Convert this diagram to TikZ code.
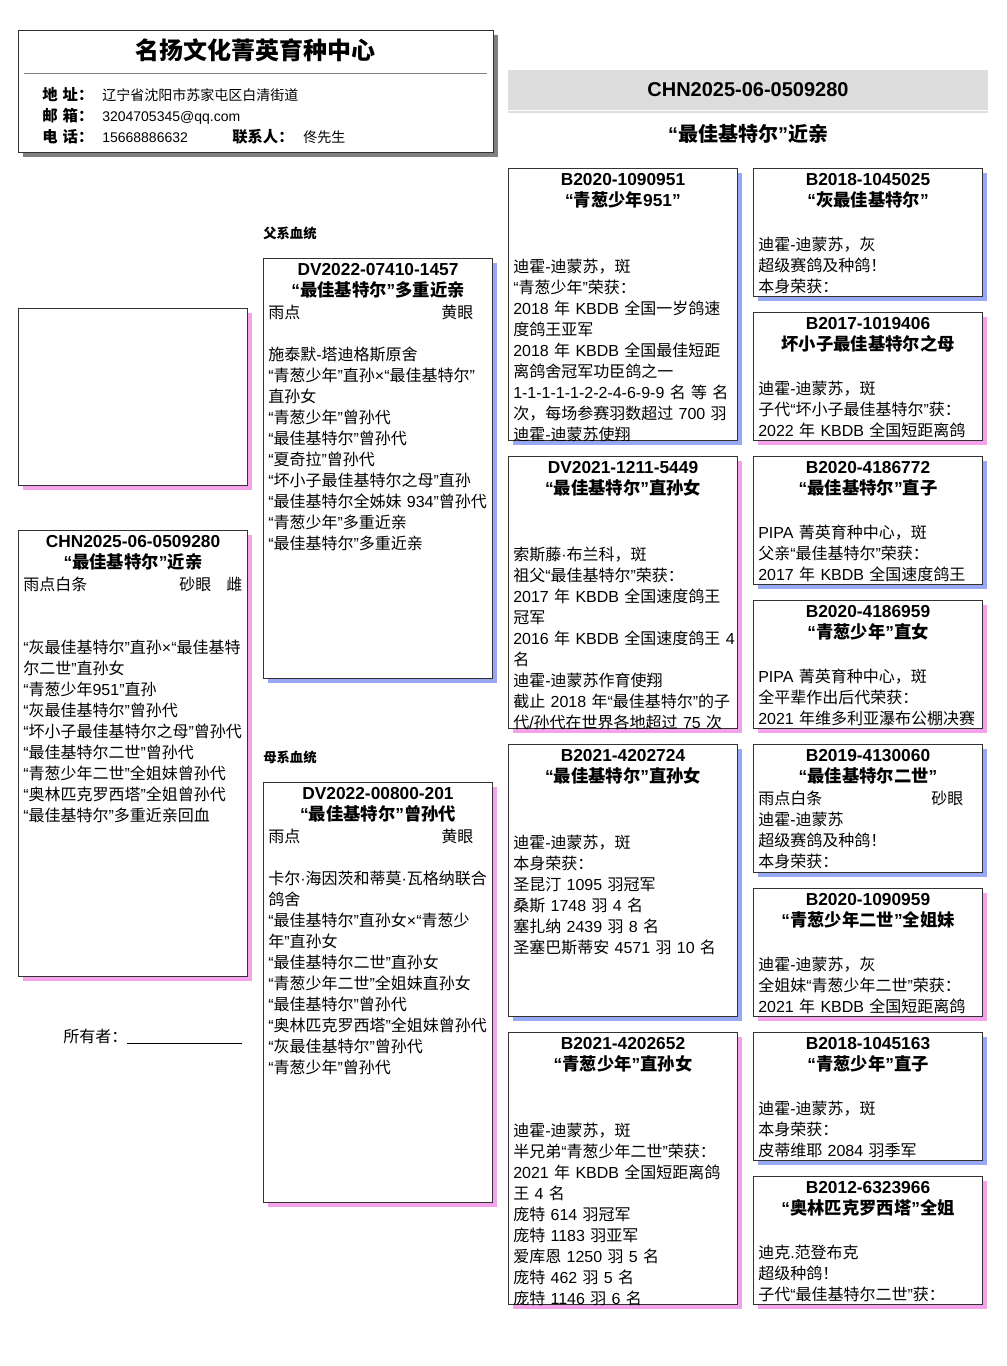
\documentclass[tikz,border=0pt]{standalone}
\usepackage{fontspec}
\setmainfont{Liberation Sans}
\newfontfamily\cjkfont{Noto Sans CJK SC}
\usetikzlibrary{shadows}

\definecolor{cockblue}{RGB}{153,168,245}
\definecolor{henpink}{RGB}{245,163,232}
\definecolor{bandgray}{RGB}{221,221,221}
\definecolor{shadowgray}{RGB}{128,128,128}

% Chinese characters in the CJK font, the rest in Liberation Sans
\XeTeXinterchartokenstate=1
\newXeTeXintercharclass\cjkclass
\makeatletter
\def\setcjkrange#1#2{\count@=#1
  \loop\XeTeXcharclass\count@=\cjkclass
  \ifnum\count@<#2 \advance\count@ by 1 \repeat}
\makeatother
\setcjkrange{"3000}{"303F}
\setcjkrange{"4E00}{"9FFF}
\setcjkrange{"FF00}{"FFEF}
\XeTeXcharclass"201C=0 \XeTeXcharclass"201D=0
\XeTeXcharclass"00B7=0 \XeTeXcharclass"00D7=0
\XeTeXinterchartoks 0 \cjkclass={\cjkfont}
\XeTeXinterchartoks 4095 \cjkclass={\cjkfont}
\XeTeXinterchartoks \cjkclass 0={\rmfamily}
\XeTeXinterchartoks \cjkclass 4095={\rmfamily}

\newcommand\farapart{\hskip 0pt plus 1filll}

\begin{document}
\begin{tikzpicture}[x=0.75pt, y=-0.75pt,
  card/.style={draw=black!80, line width=0.75pt, fill=white, inner sep=0pt,
    minimum width=171.75pt, anchor=north west},
  cock/.style={card, drop shadow={shadow xshift=3.5pt, shadow yshift=-3.5pt, fill=cockblue, opacity=1}},
  hen/.style={card, drop shadow={shadow xshift=3.5pt, shadow yshift=-3.5pt, fill=henpink, opacity=1}},
  tallcard/.style={minimum height=204pt},
  shortcard/.style={minimum height=96pt},
  ringtext/.style={anchor=base, align=center, text width=164.25pt, inner sep=0pt,
    font=\fontsize{13}{15.75}\selectfont\bfseries},
  bodytext/.style={anchor=base west, align=left, text width=164.25pt, inner sep=0pt,
    font=\fontsize{12}{15.75}\selectfont},
  tag/.style={anchor=base west, inner sep=0pt, font=\fontsize{10}{12}\selectfont\bfseries}]

\path[fill=white, use as bounding box] (0,0) rectangle (1006,1366);

% header
\node[card, minimum width=356.25pt, minimum height=91.5pt,
  drop shadow={shadow xshift=3.5pt, shadow yshift=-3.5pt, fill=shadowgray, opacity=1}] (head) at (18,30) {};
\node[font=\fontsize{18}{20}\selectfont\bfseries] (loft) at (255.5,50) {名扬文化菁英育种中心};
\draw[gray, line width=0.75pt] (24,74) -- (487,74);
\node[anchor=base west, align=left, text width=45pt, inner sep=0pt,
  font=\fontsize{11.5}{15.75}\selectfont\bfseries] (keys) at (42,100.5) {地 址：\\邮 箱：\\电 话：};
\node[anchor=base west, align=left, text width=150pt, inner sep=0pt,
  font=\fontsize{10.5}{15.75}\selectfont] (values) at (102,100.5) {辽宁省沈阳市苏家屯区白清街道\\3204705345@qq.com\\15668886632};
\node[anchor=base west, inner sep=0pt, font=\fontsize{11.5}{14}\selectfont\bfseries] (contact) at (232,142.5) {联系人：};
\node[anchor=base west, inner sep=0pt, font=\fontsize{10.5}{14}\selectfont] (person) at (303,142.5) {佟先生};

\node[fill=bandgray, minimum width=360pt, minimum height=30pt, inner sep=0pt,
  font=\fontsize{15}{18}\selectfont\bfseries] (band) at (748,90) {CHN2025-06-0509280};
\draw[bandgray, line width=1.5pt] (508,112.5) -- (988,112.5);
\node[font=\fontsize{15}{18}\selectfont\bfseries] (title) at (748,134) {“最佳基特尔”近亲};

% subject
\node[hen, minimum height=132.75pt] (photo) at (18,308) {};
\node[hen, minimum height=334.5pt] (self) at (18,530) {};
\node[ringtext] (selfring) at ([shift={(0,17.5)}]self.north) {CHN2025-06-0509280\\“最佳基特尔”近亲};
\node[bodytext] (selfinfo) at ([shift={(5,60)}]self.north west) {雨点白条\farapart 砂眼\makebox[23.25pt][r]{雌}\\ \mbox{}\\ \mbox{}\\
  “灰最佳基特尔”直孙×“最佳基特\\尔二世”直孙女\\“青葱少年951”直孙\\“灰最佳基特尔”曾孙代\\“坏小子最佳基特尔之母”曾孙代\\
  “最佳基特尔二世”曾孙代\\“青葱少年二世”全姐妹曾孙代\\“奥林匹克罗西塔”全姐曾孙代\\“最佳基特尔”多重近亲回血};
\node[anchor=base west, inner sep=0pt, font=\fontsize{12}{15}\selectfont] (owner) at (63,1042) {所有者：\rule[-1pt]{86pt}{0.6pt}};

% parents
\node[tag] (sirelabel) at (263,238) {父系血统};
\node[cock, minimum height=315pt] (sire) at (263,258) {};
\node[ringtext] (sirering) at ([shift={(0,17.5)}]sire.north) {DV2022-07410-1457\\“最佳基特尔”多重近亲};
\node[bodytext] (sireinfo) at ([shift={(5,60)}]sire.north west) {雨点\farapart 黄眼\makebox[10.5pt]{}\\ \mbox{}\\
  施泰默-塔迪格斯原舍\\“青葱少年”直孙×“最佳基特尔”\\直孙女\\“青葱少年”曾孙代\\“最佳基特尔”曾孙代\\“夏奇拉”曾孙代\\
  “坏小子最佳基特尔之母”直孙\\“最佳基特尔全姊妹 934”曾孙代\\“青葱少年”多重近亲\\“最佳基特尔”多重近亲};

\node[tag] (damlabel) at (263,762) {母系血统};
\node[hen, minimum height=315pt] (dam) at (263,782) {};
\node[ringtext] (damring) at ([shift={(0,17.5)}]dam.north) {DV2022-00800-201\\“最佳基特尔”曾孙代};
\node[bodytext] (daminfo) at ([shift={(5,60)}]dam.north west) {雨点\farapart 黄眼\makebox[10.5pt]{}\\ \mbox{}\\
  卡尔·海因茨和蒂莫·瓦格纳联合\\鸽舍\\“最佳基特尔”直孙女×“青葱少\\年”直孙女\\“最佳基特尔二世”直孙女\\
  “青葱少年二世”全姐妹直孙女\\“最佳基特尔”曾孙代\\“奥林匹克罗西塔”全姐妹曾孙代\\“灰最佳基特尔”曾孙代\\“青葱少年”曾孙代};

% grandparents
\node[cock, tallcard] (ss) at (508,168) {};
\node[ringtext] (ssring) at ([shift={(0,17.5)}]ss.north) {B2020-1090951\\“青葱少年951”};
\node[bodytext] (ssinfo) at ([shift={(5,104)}]ss.north west) {迪霍-迪蒙苏，斑\\“青葱少年”荣获：\\2018 年 KBDB 全国一岁鸽速\\度鸽王亚军\\
  2018 年 KBDB 全国最佳短距\\离鸽舍冠军功臣鸽之一\\1-1-1-1-1-2-2-4-6-9-9~名~等~名\\次，每场参赛羽数超过~700~羽\\迪霍-迪蒙苏使翔};

\node[hen, tallcard] (sd) at (508,456) {};
\node[ringtext] (sdring) at ([shift={(0,17.5)}]sd.north) {DV2021-1211-5449\\“最佳基特尔”直孙女};
\node[bodytext] (sdinfo) at ([shift={(5,104)}]sd.north west) {索斯藤·布兰科，斑\\祖父“最佳基特尔”荣获：\\2017 年 KBDB 全国速度鸽王\\冠军\\
  2016~年~KBDB~全国速度鸽王~4\\名\\迪霍-迪蒙苏作育使翔\\截止~2018~年“最佳基特尔”的子\\代/孙代在世界各地超过~75~次};

\node[cock, tallcard] (ds) at (508,744) {};
\node[ringtext] (dsring) at ([shift={(0,17.5)}]ds.north) {B2021-4202724\\“最佳基特尔”直孙女};
\node[bodytext] (dsinfo) at ([shift={(5,104)}]ds.north west) {迪霍-迪蒙苏，斑\\本身荣获：\\圣昆汀 1095 羽冠军\\桑斯 1748 羽 4 名\\
  塞扎纳 2439 羽 8 名\\圣塞巴斯蒂安 4571 羽 10 名};

\node[hen, tallcard] (dd) at (508,1032) {};
\node[ringtext] (ddring) at ([shift={(0,17.5)}]dd.north) {B2021-4202652\\“青葱少年”直孙女};
\node[bodytext] (ddinfo) at ([shift={(5,104)}]dd.north west) {迪霍-迪蒙苏，斑\\半兄弟“青葱少年二世”荣获：\\2021 年 KBDB 全国短距离鸽\\王 4 名\\
  庞特 614 羽冠军\\庞特 1183 羽亚军\\爱库恩 1250 羽 5 名\\庞特 462 羽 5 名\\庞特 1146 羽 6 名};

% great-grandparents
\node[cock, shortcard] (sss) at (753,168) {};
\node[ringtext] (sssring) at ([shift={(0,17.5)}]sss.north) {B2018-1045025\\“灰最佳基特尔”};
\node[bodytext] (sssinfo) at ([shift={(5,82)}]sss.north west) {迪霍-迪蒙苏，灰\\超级赛鸽及种鸽！\\本身荣获：};

\node[hen, shortcard] (ssd) at (753,312) {};
\node[ringtext] (ssdring) at ([shift={(0,17.5)}]ssd.north) {B2017-1019406\\坏小子最佳基特尔之母};
\node[bodytext] (ssdinfo) at ([shift={(5,82)}]ssd.north west) {迪霍-迪蒙苏，斑\\子代“坏小子最佳基特尔”获：\\2022 年 KBDB 全国短距离鸽};

\node[cock, shortcard] (sds) at (753,456) {};
\node[ringtext] (sdsring) at ([shift={(0,17.5)}]sds.north) {B2020-4186772\\“最佳基特尔”直子};
\node[bodytext] (sdsinfo) at ([shift={(5,82)}]sds.north west) {PIPA 菁英育种中心，斑\\父亲“最佳基特尔”荣获：\\2017 年 KBDB 全国速度鸽王};

\node[hen, shortcard] (sdd) at (753,600) {};
\node[ringtext] (sddring) at ([shift={(0,17.5)}]sdd.north) {B2020-4186959\\“青葱少年”直女};
\node[bodytext] (sddinfo) at ([shift={(5,82)}]sdd.north west) {PIPA 菁英育种中心，斑\\全平辈作出后代荣获：\\2021~年维多利亚瀑布公棚决赛};

\node[cock, shortcard] (dss) at (753,744) {};
\node[ringtext] (dssring) at ([shift={(0,17.5)}]dss.north) {B2019-4130060\\“最佳基特尔二世”};
\node[bodytext] (dssinfo) at ([shift={(5,60)}]dss.north west) {雨点白条\farapart 砂眼\makebox[10.5pt]{}\\迪霍-迪蒙苏\\超级赛鸽及种鸽！\\本身荣获：};

\node[hen, shortcard] (dsd) at (753,888) {};
\node[ringtext] (dsdring) at ([shift={(0,17.5)}]dsd.north) {B2020-1090959\\“青葱少年二世”全姐妹};
\node[bodytext] (dsdinfo) at ([shift={(5,82)}]dsd.north west) {迪霍-迪蒙苏，灰\\全姐妹“青葱少年二世”荣获：\\2021 年 KBDB 全国短距离鸽};

\node[cock, shortcard] (dds) at (753,1032) {};
\node[ringtext] (ddsring) at ([shift={(0,17.5)}]dds.north) {B2018-1045163\\“青葱少年”直子};
\node[bodytext] (ddsinfo) at ([shift={(5,82)}]dds.north west) {迪霍-迪蒙苏，斑\\本身荣获：\\皮蒂维耶 2084 羽季军};

\node[hen, shortcard] (ddd) at (753,1176) {};
\node[ringtext] (dddring) at ([shift={(0,17.5)}]ddd.north) {B2012-6323966\\“奥林匹克罗西塔”全姐};
\node[bodytext] (dddinfo) at ([shift={(5,82)}]ddd.north west) {迪克.范登布克\\超级种鸽！\\子代“最佳基特尔二世”获：};
\end{tikzpicture}
\end{document}
